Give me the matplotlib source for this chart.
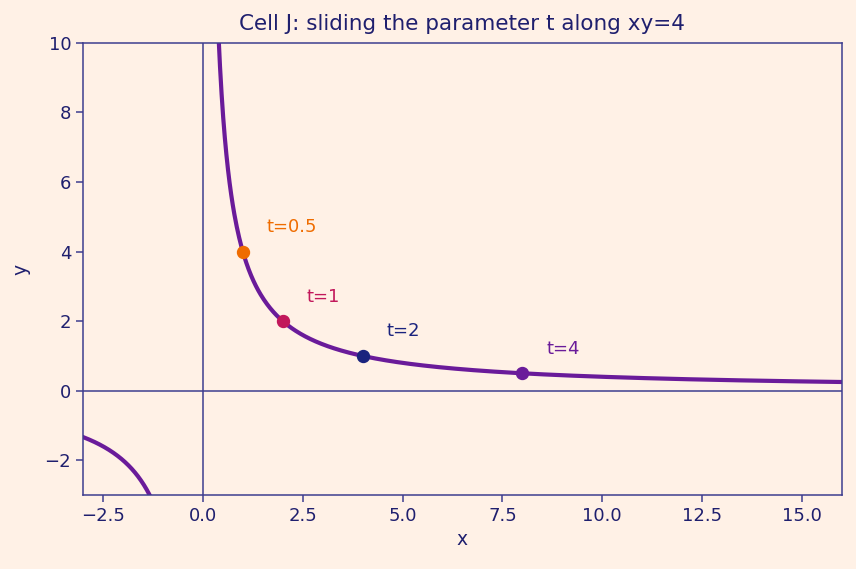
import numpy as np
import matplotlib
matplotlib.use("Agg")
import matplotlib.pyplot as plt

# parameter values marked on the curve xy=4, point = (2t, 2/t)
t_vals = [0.5, 1, 2, 4]
t_labels = ["t=0.5", "t=1", "t=2", "t=4"]
t_colors = ["#ef6c00", "#c2185b", "#1a237e", "#6a1b9a"]

bg = "#fff1e6"
ink = "#1f1f6e"
spine = "#3d3d8f"
curve = "#6a1b9a"

fig = plt.figure(figsize=(8.56, 5.69), dpi=100, facecolor=bg)
ax = fig.add_axes([0.097, 0.13, 0.8866, 0.7946])
ax.set_facecolor(bg)

# the two branches of xy=4
xr = np.linspace(0.05, 16, 800)
ax.plot(xr, 4 / xr, color=curve, lw=3.0, zorder=2)
xl = np.linspace(-3, -0.05, 400)
ax.plot(xl, 4 / xl, color=curve, lw=3.0, zorder=2)

ax.axhline(0, color=spine, lw=1.1, zorder=1)
ax.axvline(0, color=spine, lw=1.1, zorder=1)

for t, lab, c in zip(t_vals, t_labels, t_colors):
    px, py = 2 * t, 2 / t
    ax.plot(px, py, "o", color=c, ms=8.6, zorder=3)
    ax.annotate(lab, (px, py), xytext=(17, 14), textcoords="offset points",
                color=c, fontsize=13)

ax.set_xlim(-3, 16)
ax.set_ylim(-3, 10)
ax.set_title("Cell J: sliding the parameter t along xy=4", color=ink, fontsize=15.5, pad=9)
ax.set_xlabel("x", color=ink, fontsize=13.5)
ax.set_ylabel("y", color=ink, fontsize=13.5, labelpad=10)
ax.tick_params(colors=ink, labelsize=13, length=5, width=1.1, color=spine)
for s in ax.spines.values():
    s.set_color(spine)
    s.set_linewidth(1.1)

fig.savefig("out.png", facecolor=bg)
